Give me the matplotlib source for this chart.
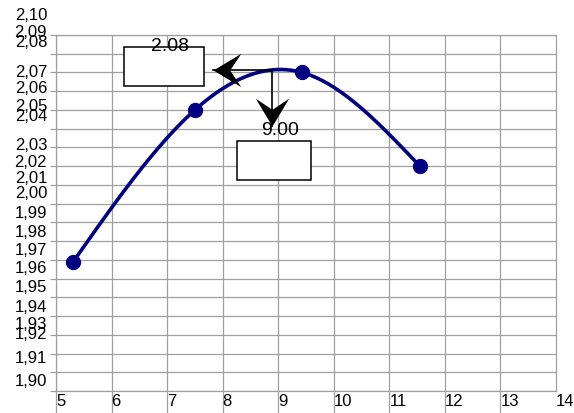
import matplotlib
matplotlib.use("Agg")
import matplotlib.pyplot as plt
import matplotlib.transforms as mtransforms
from matplotlib.patches import Rectangle
from matplotlib.path import Path
import numpy as np

plt.rcParams['font.family'] = ['Liberation Sans', 'DejaVu Sans']

# data
x_vals = [5.31, 7.50, 9.43, 11.55]
y_vals = [1.969, 2.050, 2.070, 2.020]

x_ticks = [5, 6, 7, 8, 9, 10, 11, 12, 13, 14]
y_labels = ['2,10', '2,09', '2,08', '2,07', '2,06', '2,05', '2,04', '2,03', '2,02', '2,01',
            '2,00', '1,99', '1,98', '1,97', '1,96', '1,95', '1,94', '1,93', '1,92', '1,91', '1,90']
y_label_vals = [2.10, 2.09, 2.08, 2.07, 2.06, 2.05, 2.04, 2.03, 2.02, 2.01,
                2.00, 1.99, 1.98, 1.97, 1.96, 1.95, 1.94, 1.93, 1.92, 1.91, 1.90]
# the labels in the original sit a little off their grid lines (pixels, upward)
y_label_shift = [2, 3, 12, 1, 4, 4, 13, 3, 5, 7, 11, 10, 10, 10.5, 11, 11, 10, 11, 20, 14.5, 10]

peak_x, peak_y = 8.88, 2.0714
label_x, label_y = '9.00', '2.08'
harrow_end = 7.82
varrow_end = 2.0413


def natural_spline(x, y, n=300):
    x = np.asarray(x, float)
    y = np.asarray(y, float)
    h = np.diff(x)
    m = len(x)
    A = np.zeros((m, m))
    r = np.zeros(m)
    A[0, 0] = A[-1, -1] = 1
    for i in range(1, m - 1):
        A[i, i - 1] = h[i - 1]
        A[i, i] = 2 * (h[i - 1] + h[i])
        A[i, i + 1] = h[i]
        r[i] = 3 * ((y[i + 1] - y[i]) / h[i] - (y[i] - y[i - 1]) / h[i - 1])
    c = np.linalg.solve(A, r)
    b = (y[1:] - y[:-1]) / h - h * (2 * c[:-1] + c[1:]) / 3
    d = (c[1:] - c[:-1]) / (3 * h)
    xs = np.linspace(x[0], x[-1], n)
    idx = np.clip(np.searchsorted(x, xs) - 1, 0, m - 2)
    dx = xs - x[idx]
    ys = y[idx] + b[idx] * dx + c[idx] * dx ** 2 + d[idx] * dx ** 3
    return xs, ys


def head(direction):
    # barbed arrow head with its tip at the origin
    pts = [(0, 0), (1, 0.6), (0.6, 0), (1, -0.6), (0, 0)]
    if direction == 'down':
        pts = [(-py, px) for px, py in pts]
    return Path(pts, [Path.MOVETO, Path.LINETO, Path.LINETO, Path.LINETO, Path.CLOSEPOLY])


W, H = 574, 414
fig = plt.figure(figsize=(W / 100, H / 100), dpi=100)
ax = fig.add_axes([56 / W, 1 - 392 / H, 500 / W, 356 / H])
ax.set_xlim(5, 14)
ax.set_ylim(1.90, 2.09)

grid_c = '#a0a0a0'
ax.set_xticks(x_ticks[:-1])
ax.set_yticks(np.round(np.arange(1.90, 2.0901, 0.01), 2))
ax.grid(True, color=grid_c, lw=0.9)
ax.tick_params(axis='x', direction='out', length=16, color=grid_c, width=0.9, labelbottom=False)
ax.tick_params(axis='y', direction='out', length=4.5, color=grid_c, width=0.9, labelleft=False)
for s in ax.spines.values():
    s.set_color(grid_c)
    s.set_linewidth(0.9)

# x labels sit inside the tick area, just right of each grid line
for xv in x_ticks:
    ax.text(xv, -0.028, str(xv), transform=ax.get_xaxis_transform(), ha='left', va='center',
            fontsize=12, clip_on=False)

# y labels
ylab_trans = ax.get_yaxis_transform()
for lab, v, sh in zip(y_labels, y_label_vals, y_label_shift):
    tr = ylab_trans + mtransforms.ScaledTranslation(-9 / 100, sh / 100, fig.dpi_scale_trans)
    ax.text(0, v, lab, transform=tr, ha='right', va='center', fontsize=12, clip_on=False)

# curve and points
xs, ys = natural_spline(x_vals, y_vals)
ax.plot(xs, ys, color='#000080', lw=2.6, zorder=4, solid_capstyle='round')
ax.plot(x_vals, y_vals, 'o', color='#000080', ms=10, zorder=5)

# annotation boxes and arrows
ax.add_patch(Rectangle((6.22, 2.0627), 1.44, 0.0209, fc='white', ec='black', lw=1.1, zorder=6))
ax.add_patch(Rectangle((8.26, 2.0125), 1.33, 0.0208, fc='white', ec='black', lw=1.1, zorder=6))
ax.text(7.05, 2.0843, label_y, ha='center', va='center', fontsize=14, zorder=8)
ax.text(9.03, 2.0397, label_x, ha='center', va='center', fontsize=14, zorder=8)

ax.plot([peak_x, harrow_end], [peak_y, peak_y], color='black', lw=1.2, zorder=7)
ax.plot([peak_x, peak_x], [peak_y, varrow_end], color='black', lw=1.2, zorder=7)
ax.plot([harrow_end], [peak_y], marker=head('left'), ms=40, color='black', mew=0, zorder=7)
ax.plot([peak_x], [varrow_end], marker=head('down'), ms=40, color='black', mew=0, zorder=7)

fig.savefig('out.png', dpi=100)
